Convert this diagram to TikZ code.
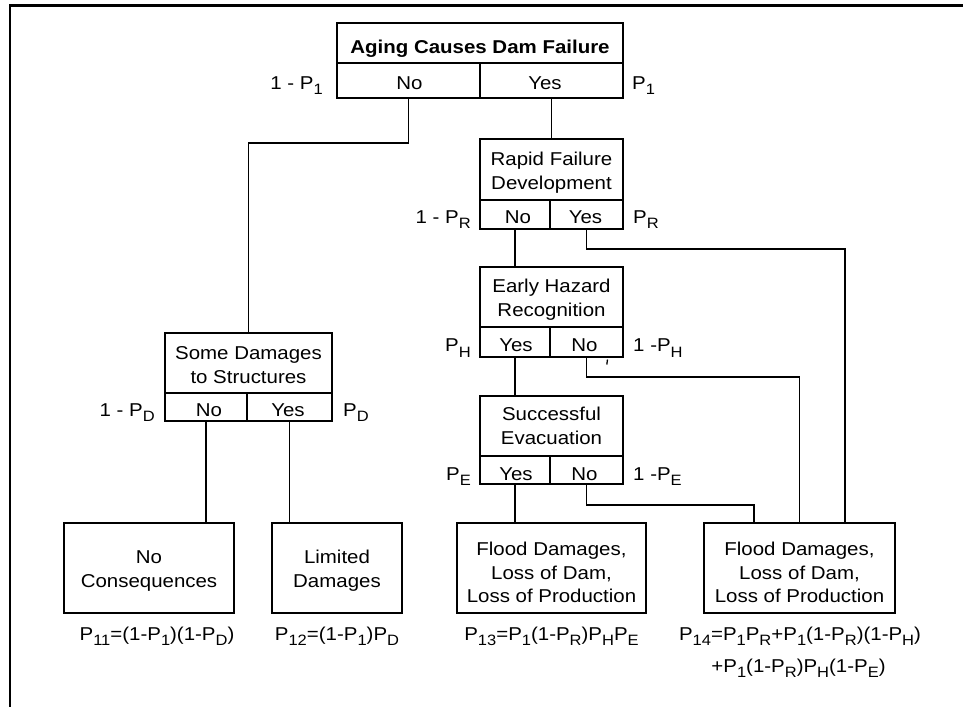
\documentclass[tikz,border=0pt]{standalone}
\usepackage{fontspec}
\setmainfont[FakeStretch=1.1]{Liberation Sans}
\newcommand{\sbs}[1]{\raisebox{-5.5pt}{\fontsize{15}{15}\selectfont #1}}
\begin{document}
\begin{tikzpicture}[x=1pt,y=-1pt,
  every node/.style={font=\fontsize{18.6}{24}\selectfont},
  box/.style={draw, line width=1.3pt, inner sep=0pt, outer sep=0pt},
  txt/.style={anchor=base, inner sep=0pt, align=center},
  labr/.style={anchor=base east, inner sep=0pt},
  labl/.style={anchor=base west, inner sep=0pt},
  con/.style={line width=1.3pt},
  frame/.style={line width=2.6pt}]
\useasboundingbox (0,0) rectangle (963,707);
% frame
\draw[frame] (963,5.5) -- (10,5.5) -- (10,707);

% top decision
\node[box, minimum width=286pt, minimum height=40pt] (aH) at (480,43) {};
\node[box, minimum width=143pt, minimum height=35pt] (aNo) at (408.5,80.5) {};
\node[box, minimum width=143pt, minimum height=35pt] (aYes) at (551.5,80.5) {};
\node[txt, font=\fontsize{18.6}{24}\selectfont\bfseries] (aT) at (480,53) {Aging Causes Dam Failure};
\node[txt] (aNoT) at (409.5,89) {No};
\node[txt] (aYesT) at (545,89) {Yes};
\node[labr] (aL) at (323,89) {1 - P\sbs{1}};
\node[labl] (aR) at (632,89) {P\sbs{1}};

% rapid failure
\node[box, minimum width=143pt, minimum height=61pt] (rH) at (551.5,169.5) {};
\node[box, minimum width=70pt, minimum height=29pt] (rNo) at (515,214.5) {};
\node[box, minimum width=73pt, minimum height=29pt] (rYes) at (586.5,214.5) {};
\node[txt] (rT) at (551.5,189) {Rapid Failure\\Development};
\node[txt] (rNoT) at (518,223) {No};
\node[txt] (rYesT) at (585.5,223) {Yes};
\node[labr] (rL) at (471,223) {1 - P\sbs{R}};
\node[labl] (rR) at (633,223) {P\sbs{R}};

% early hazard
\node[box, minimum width=143pt, minimum height=60pt] (eH) at (551.5,297) {};
\node[box, minimum width=70pt, minimum height=30pt] (eYes) at (515,342) {};
\node[box, minimum width=73pt, minimum height=30pt] (eNo) at (586.5,342) {};
\node[txt] (eT) at (551.5,316.5) {Early Hazard\\Recognition};
\node[txt] (eYesT) at (516,351.5) {Yes};
\node[txt] (eNoT) at (584.5,351.5) {No};
\node[labr] (eL) at (471,351.5) {P\sbs{H}};
\node[labl] (eR) at (633,351.5) {1 -P\sbs{H}};
\draw[line width=1.3pt] (607.5,359.5) -- (606.8,364.5);

% successful evacuation
\node[box, minimum width=143pt, minimum height=60pt] (sH) at (551.5,426) {};
\node[box, minimum width=70pt, minimum height=28pt] (sYes) at (515,470) {};
\node[box, minimum width=73pt, minimum height=28pt] (sNo) at (586.5,470) {};
\node[txt] (sT) at (551.5,444.5) {Successful\\Evacuation};
\node[txt] (sYesT) at (516,480) {Yes};
\node[txt] (sNoT) at (584.5,480) {No};
\node[labr] (sL) at (471,480) {P\sbs{E}};
\node[labl] (sR) at (633,480) {1 -P\sbs{E}};

% some damages
\node[box, minimum width=167pt, minimum height=60pt] (sdH) at (248.5,363) {};
\node[box, minimum width=82pt, minimum height=28pt] (sdNo) at (206,407) {};
\node[box, minimum width=85pt, minimum height=28pt] (sdYes) at (289.5,407) {};
\node[txt] (sdT) at (248.5,383) {Some Damages\\to Structures};
\node[txt] (sdNoT) at (209,416) {No};
\node[txt] (sdYesT) at (288,416) {Yes};
\node[labr] (sdL) at (155,416) {1 - P\sbs{D}};
\node[labl] (sdR) at (343,416) {P\sbs{D}};

% outcome boxes
\node[box, minimum width=170pt, minimum height=90pt] (nc) at (149,568) {};
\node[txt] (ncT) at (149,587) {No\\Consequences};
\node[box, minimum width=130pt, minimum height=90pt] (ld) at (337,568) {};
\node[txt] (ldT) at (337,587) {Limited\\Damages};
\node[box, minimum width=189pt, minimum height=90pt] (bm) at (551.5,568) {};
\node[txt, font=\fontsize{18.6}{23.5}\selectfont] (bmT) at (551.5,602.5) {Flood Damages,\\Loss of Dam,\\Loss of Production};
\node[box, minimum width=191pt, minimum height=90pt] (fr) at (799.5,568) {};
\node[txt, font=\fontsize{18.6}{23.5}\selectfont] (frT) at (799.5,602.5) {Flood Damages,\\Loss of Dam,\\Loss of Production};
\coordinate (frA) at ([xshift=-45.5pt]fr.north);
\coordinate (frC) at ([xshift=45.5pt]fr.north);

% probabilities
\node[txt] (p11) at (157,640) {P\sbs{11}=(1-P\sbs{1})(1-P\sbs{D})};
\node[txt] (p12) at (337,640) {P\sbs{12}=(1-P\sbs{1})P\sbs{D}};
\node[txt] (p13) at (551.5,640) {P\sbs{13}=P\sbs{1}(1-P\sbs{R})P\sbs{H}P\sbs{E}};
\node[txt] (p14a) at (800,640) {P\sbs{14}=P\sbs{1}P\sbs{R}+P\sbs{1}(1-P\sbs{R})(1-P\sbs{H})};
\node[txt] (p14b) at (798.5,672) {+P\sbs{1}(1-P\sbs{R})P\sbs{H}(1-P\sbs{E})};

% connectors
\draw[con] (aNo.south) -- ++(0,45) -| (sdH.north);
\draw[con] (aYes.south) -- (rH.north);
\draw[con] (rNo.south) -- (rNo.south |- eH.north);
\draw[con] (rYes.south) -- ++(0,20) -| (frC);
\draw[con] (eYes.south) -- (eYes.south |- sH.north);
\draw[con] (eNo.south) -- ++(0,20) -| (fr.north);
\draw[con] (sYes.south) -- (sYes.south |- bm.north);
\draw[con] (sNo.south) -- ++(0,21) -| (frA);
\draw[con] (sdNo.south) -- (sdNo.south |- nc.north);
\draw[con] (sdYes.south) -- (sdYes.south |- ld.north);
\end{tikzpicture}
\end{document}
